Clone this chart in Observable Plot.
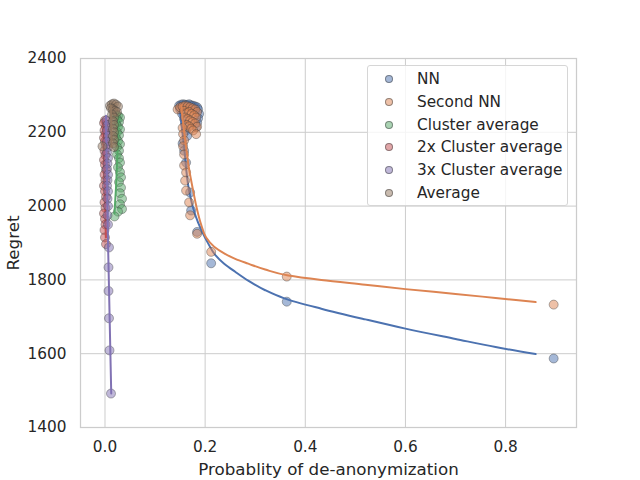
<!DOCTYPE html>
<html>
<head>
<meta charset="utf-8">
<script src="https://cdn.jsdelivr.net/npm/d3@7"></script>
<script src="https://cdn.jsdelivr.net/npm/@observablehq/plot@0.6"></script>
<style>
  html, body { margin: 0; padding: 0; background: #fff; }
  #wrap { position: relative; width: 640px; height: 480px; font-family: "DejaVu Sans", sans-serif; color: #262626; }
  #legend { position: absolute; left: 367px; top: 65px; width: 199px; height: 137px; padding-top: 2px;
    border: 1px solid #d6d6d6; border-radius: 3px; background: rgba(255,255,255,0.8); }
  .item { position: relative; height: 22.8px; line-height: 22.8px; font-size: 15.3px; }
  .sw { position: absolute; left: 17px; top: 7px; width: 8px; height: 8px; border-radius: 50%; box-sizing: border-box; border: 0.8px solid rgba(60,60,60,0.5); }
  .lab { position: absolute; left: 49px; top: 0; white-space: nowrap; }
</style>
</head>
<body>
<div id="wrap"><div id="chart"></div><div id="legend"></div></div>
<script>
const series = ["NN", "Second NN", "Cluster average", "2x Cluster average", "3x Cluster average", "Average"];
const colors = ["#4c72b0", "#dd8452", "#55a868", "#c44e52", "#8172b3", "#937860"];
const xTicks = [0, 0.2, 0.4, 0.6, 0.8];
const yTicks = [1400, 1600, 1800, 2000, 2200, 2400];

// NN scatter
const nnX = [0.148,0.152,0.156,0.160,0.164,0.168,0.172,0.176,0.180,0.184,0.186,0.188,0.186,0.184,0.182,0.150,0.154,0.158,0.160,0.162,0.164,0.155,0.158,0.162,0.170,0.172,0.184,0.212,0.363,0.896];
const nnY = [2272,2275,2276,2275,2274,2276,2273,2272,2270,2268,2262,2250,2238,2226,2214,2262,2250,2236,2222,2205,2190,2170,2150,2118,2037,1988,1930,1845,1741,1587];
// Second NN scatter
const snX = [0.145,0.150,0.155,0.160,0.165,0.170,0.175,0.180,0.184,0.158,0.163,0.168,0.173,0.178,0.182,0.160,0.165,0.170,0.175,0.180,0.184,0.163,0.168,0.172,0.176,0.182,0.155,0.156,0.158,0.156,0.158,0.158,0.162,0.160,0.162,0.168,0.170,0.184,0.212,0.363,0.896];
const snY = [2262,2268,2270,2272,2270,2268,2265,2262,2255,2258,2252,2255,2250,2246,2240,2240,2236,2232,2228,2224,2215,2220,2216,2210,2205,2195,2212,2195,2178,2162,2140,2110,2091,2069,2042,2010,1975,1925,1876,1809,1733];
// Cluster average scatter
const caX = [0.018,0.022,0.026,0.030,0.024,0.028,0.022,0.026,0.030,0.024,0.028,0.022,0.026,0.030,0.024,0.028,0.024,0.028,0.030,0.026,0.030,0.032,0.028,0.032,0.030,0.034,0.030,0.034,0.026,0.019];
const caY = [2250,2248,2245,2240,2235,2228,2222,2215,2208,2200,2192,2185,2176,2168,2160,2150,2140,2130,2118,2105,2092,2078,2065,2050,2035,2020,2005,1992,1985,1972];
// 2x Cluster average scatter
const c2X = [0.000,-0.002,0.002,-0.001,0.001,-0.002,0.000,0.002,-0.001,0.001,-0.002,0.000,0.002,-0.001,0.001,-0.002,0.000,0.002,-0.001,0.001,-0.002,0.000,0.001,-0.001,0.000,0.002];
const c2Y = [2232,2225,2215,2205,2195,2185,2175,2165,2150,2138,2125,2112,2098,2085,2070,2055,2040,2025,2010,1995,1980,1965,1950,1935,1915,1897];
// 3x Cluster average scatter
const c3X = [0.003,0.005,0.004,0.006,0.004,0.006,0.004,0.006,0.005,0.004,0.006,0.005,0.004,0.006,0.005,0.006,0.005,0.006,0.008,0.007,0.007,0.008,0.009,0.012];
const c3Y = [2232,2220,2205,2190,2175,2160,2145,2130,2115,2100,2085,2070,2055,2040,2020,2000,1975,1950,1888,1834,1770,1696,1609,1492];
// Average scatter
const avX = [0.010,0.014,0.018,0.022,0.026,0.012,0.016,0.020,0.024,0.014,0.018,0.016,0.018,0.016,0.018,0.016,0.018,0.016,0.018,-0.005];
const avY = [2272,2276,2278,2275,2270,2265,2262,2258,2255,2248,2240,2230,2220,2210,2200,2190,2180,2170,2160,2162];

// fitted curves
const nnLineX = [0.148,0.158,0.168,0.176,0.186,0.196,0.206,0.220,0.238,0.260,0.286,0.320,0.358,0.432,0.520,0.600,0.700,0.780,0.860];
const nnLineY = [2278,2160,2042,1995,1955,1925,1899,1868,1844,1822,1798,1772,1750,1722,1693,1668,1640,1618,1599];
const snLineX = [0.152,0.162,0.168,0.176,0.184,0.192,0.202,0.218,0.238,0.260,0.286,0.320,0.366,0.432,0.520,0.600,0.700,0.780,0.860];
const snLineY = [2273,2160,2100,2042,1990,1950,1915,1890,1872,1857,1844,1828,1812,1800,1787,1775,1762,1751,1740];
const caLineX = [0.027,0.025,0.022,0.019];
const caLineY = [2250,2150,2050,1980];
const c2LineX = [-0.003,-0.001,0.002];
const c2LineY = [2232,2080,1915];
const c3LineX = [0.002,0.006,0.0125];
const c3LineY = [2245,1905,1492];
const avLineX = [0.012,0.013];
const avLineY = [2272,2160];

const scatterX = [nnX, snX, caX, c2X, c3X, avX];
const scatterY = [nnY, snY, caY, c2Y, c3Y, avY];
const lineX = [nnLineX, snLineX, caLineX, c2LineX, c3LineX, avLineX];
const lineY = [nnLineY, snLineY, caLineY, c2LineY, c3LineY, avLineY];

const marks = [
  Plot.gridX({ticks: xTicks, stroke: "#cccccc", strokeOpacity: 1, strokeWidth: 1}),
  Plot.gridY({ticks: yTicks, stroke: "#cccccc", strokeOpacity: 1, strokeWidth: 1}),
  Plot.frame({stroke: "#cccccc", strokeWidth: 1.25})
];
series.forEach((s, i) => {
  const pts = scatterX[i].map((x, j) => ({x, y: scatterY[i][j]}));
  const crv = lineX[i].map((x, j) => ({x, y: lineY[i][j]}));
  marks.push(Plot.dot(pts, {x: "x", y: "y", r: 4.5, fill: colors[i], fillOpacity: 0.5,
    stroke: "#3c3c3c", strokeOpacity: 0.5, strokeWidth: 0.8}));
  marks.push(Plot.line(crv, {x: "x", y: "y", stroke: colors[i], strokeWidth: 2, curve: "monotone-y"}));
});
marks.push(
  Plot.axisX({ticks: xTicks, tickFormat: d3.format(".1f"), tickSize: 0, tickPadding: 14, fontSize: 15.3, label: null}),
  Plot.axisX({ticks: [], label: "Probablity of de-anonymization", labelAnchor: "center", labelArrow: "none", labelOffset: 47, fontSize: 16.7}),
  Plot.axisY({ticks: yTicks, tickFormat: d3.format("d"), tickSize: 0, tickPadding: 14, fontSize: 15.3, label: null}),
  Plot.axisY({ticks: [], label: "Regret", labelAnchor: "center", labelArrow: "none", labelOffset: 73, fontSize: 16.7})
);

const chart = Plot.plot({
  width: 640, height: 480,
  marginLeft: 80, marginRight: 64, marginTop: 58, marginBottom: 53,
  x: {domain: [-0.0489, 0.9416]},
  y: {domain: [1400, 2400]},
  style: {fontFamily: "DejaVu Sans", color: "#262626", background: "#fff"},
  marks
});
document.getElementById("chart").appendChild(chart);

const legend = document.getElementById("legend");
series.forEach((s, i) => {
  const item = document.createElement("div");
  item.className = "item";
  const sw = document.createElement("span");
  sw.className = "sw";
  sw.style.background = d3.color(colors[i]).copy({opacity: 0.5}).formatRgb();
  const lab = document.createElement("span");
  lab.className = "lab";
  lab.textContent = s;
  item.appendChild(sw); item.appendChild(lab);
  legend.appendChild(item);
});
</script>
</body>
</html>
